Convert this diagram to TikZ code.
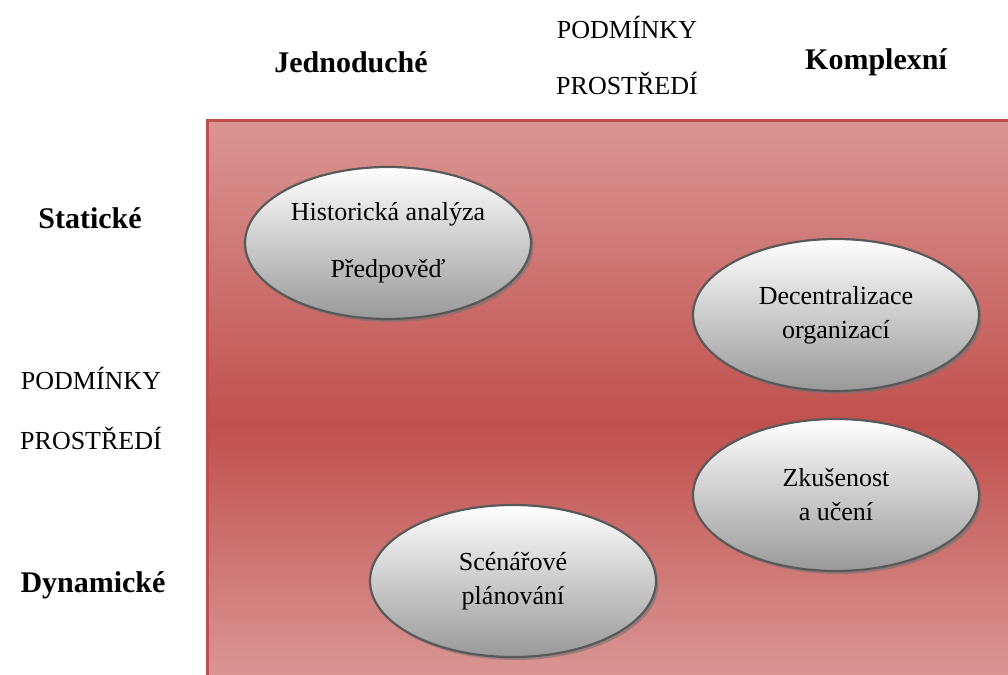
\documentclass[tikz,border=0pt]{standalone}
\usepackage{fontspec}
\setmainfont{Liberation Serif}
\usetikzlibrary{shapes.geometric,shadows}
\definecolor{rosetop}{RGB}{218,150,148}
\definecolor{rosemid}{RGB}{192,80,77}
\definecolor{rimgray}{RGB}{89,89,89}
% light - dark - light vertical fill, darkest a little below the middle
\pgfdeclareverticalshading{field}{100bp}{color(0bp)=(rosetop); color(25bp)=(rosetop);
  color(47.5bp)=(rosemid); color(75bp)=(rosetop); color(100bp)=(rosetop)}
\tikzset{
  bubble/.style={ellipse, draw=rimgray, line width=2.2pt,
    top color=white, bottom color=black!40,
    minimum width=286pt, minimum height=152pt, inner sep=0pt,
    align=center, font=\fontsize{26}{34}\selectfont,
    drop shadow={shadow xshift=2.5pt, shadow yshift=-3pt, fill=black!55, opacity=0.6}},
  axislabel/.style={font=\fontsize{26}{30}\selectfont, align=center, inner sep=0pt},
  headlabel/.style={font=\bfseries\fontsize{30}{34}\selectfont, inner sep=0pt}
}
\begin{document}
\begin{tikzpicture}[x=1pt,y=-1pt]
\useasboundingbox (0,0) rectangle (1008,674);
% background field
\shade[shading=field] (206,119) rectangle (1012,676);
\draw[rosemid, line width=2.6pt] (207.3,680) -- (207.3,120.3) -- (1012,120.3);

% axis titles
\node[axislabel] (topaxis) at (627,55) {PODMÍNKY\\[26pt]PROSTŘEDÍ};
\node[axislabel] (leftaxis) at (91,408) {PODMÍNKY\\[30pt]PROSTŘEDÍ};
\node[headlabel] (simple) at (351,62) {Jednoduché};
\node[headlabel] (complex) at (876,62) {Komplexní};
\node[headlabel] (static) at (90,218) {Statické};
\node[headlabel] (dynamic) at (93,585) {Dynamické};

% methods
\node[bubble] (hist) at (388,243) {Historická analýza\\[23pt]Předpověď};
\node[bubble] (decent) at (836,315) {Decentralizace\\organizací};
\node[bubble] (learn) at (836,495) {Zkušenost\\a učení};
\node[bubble] (scen) at (513,581) {Scénářové\\plánování};
\end{tikzpicture}
\end{document}
